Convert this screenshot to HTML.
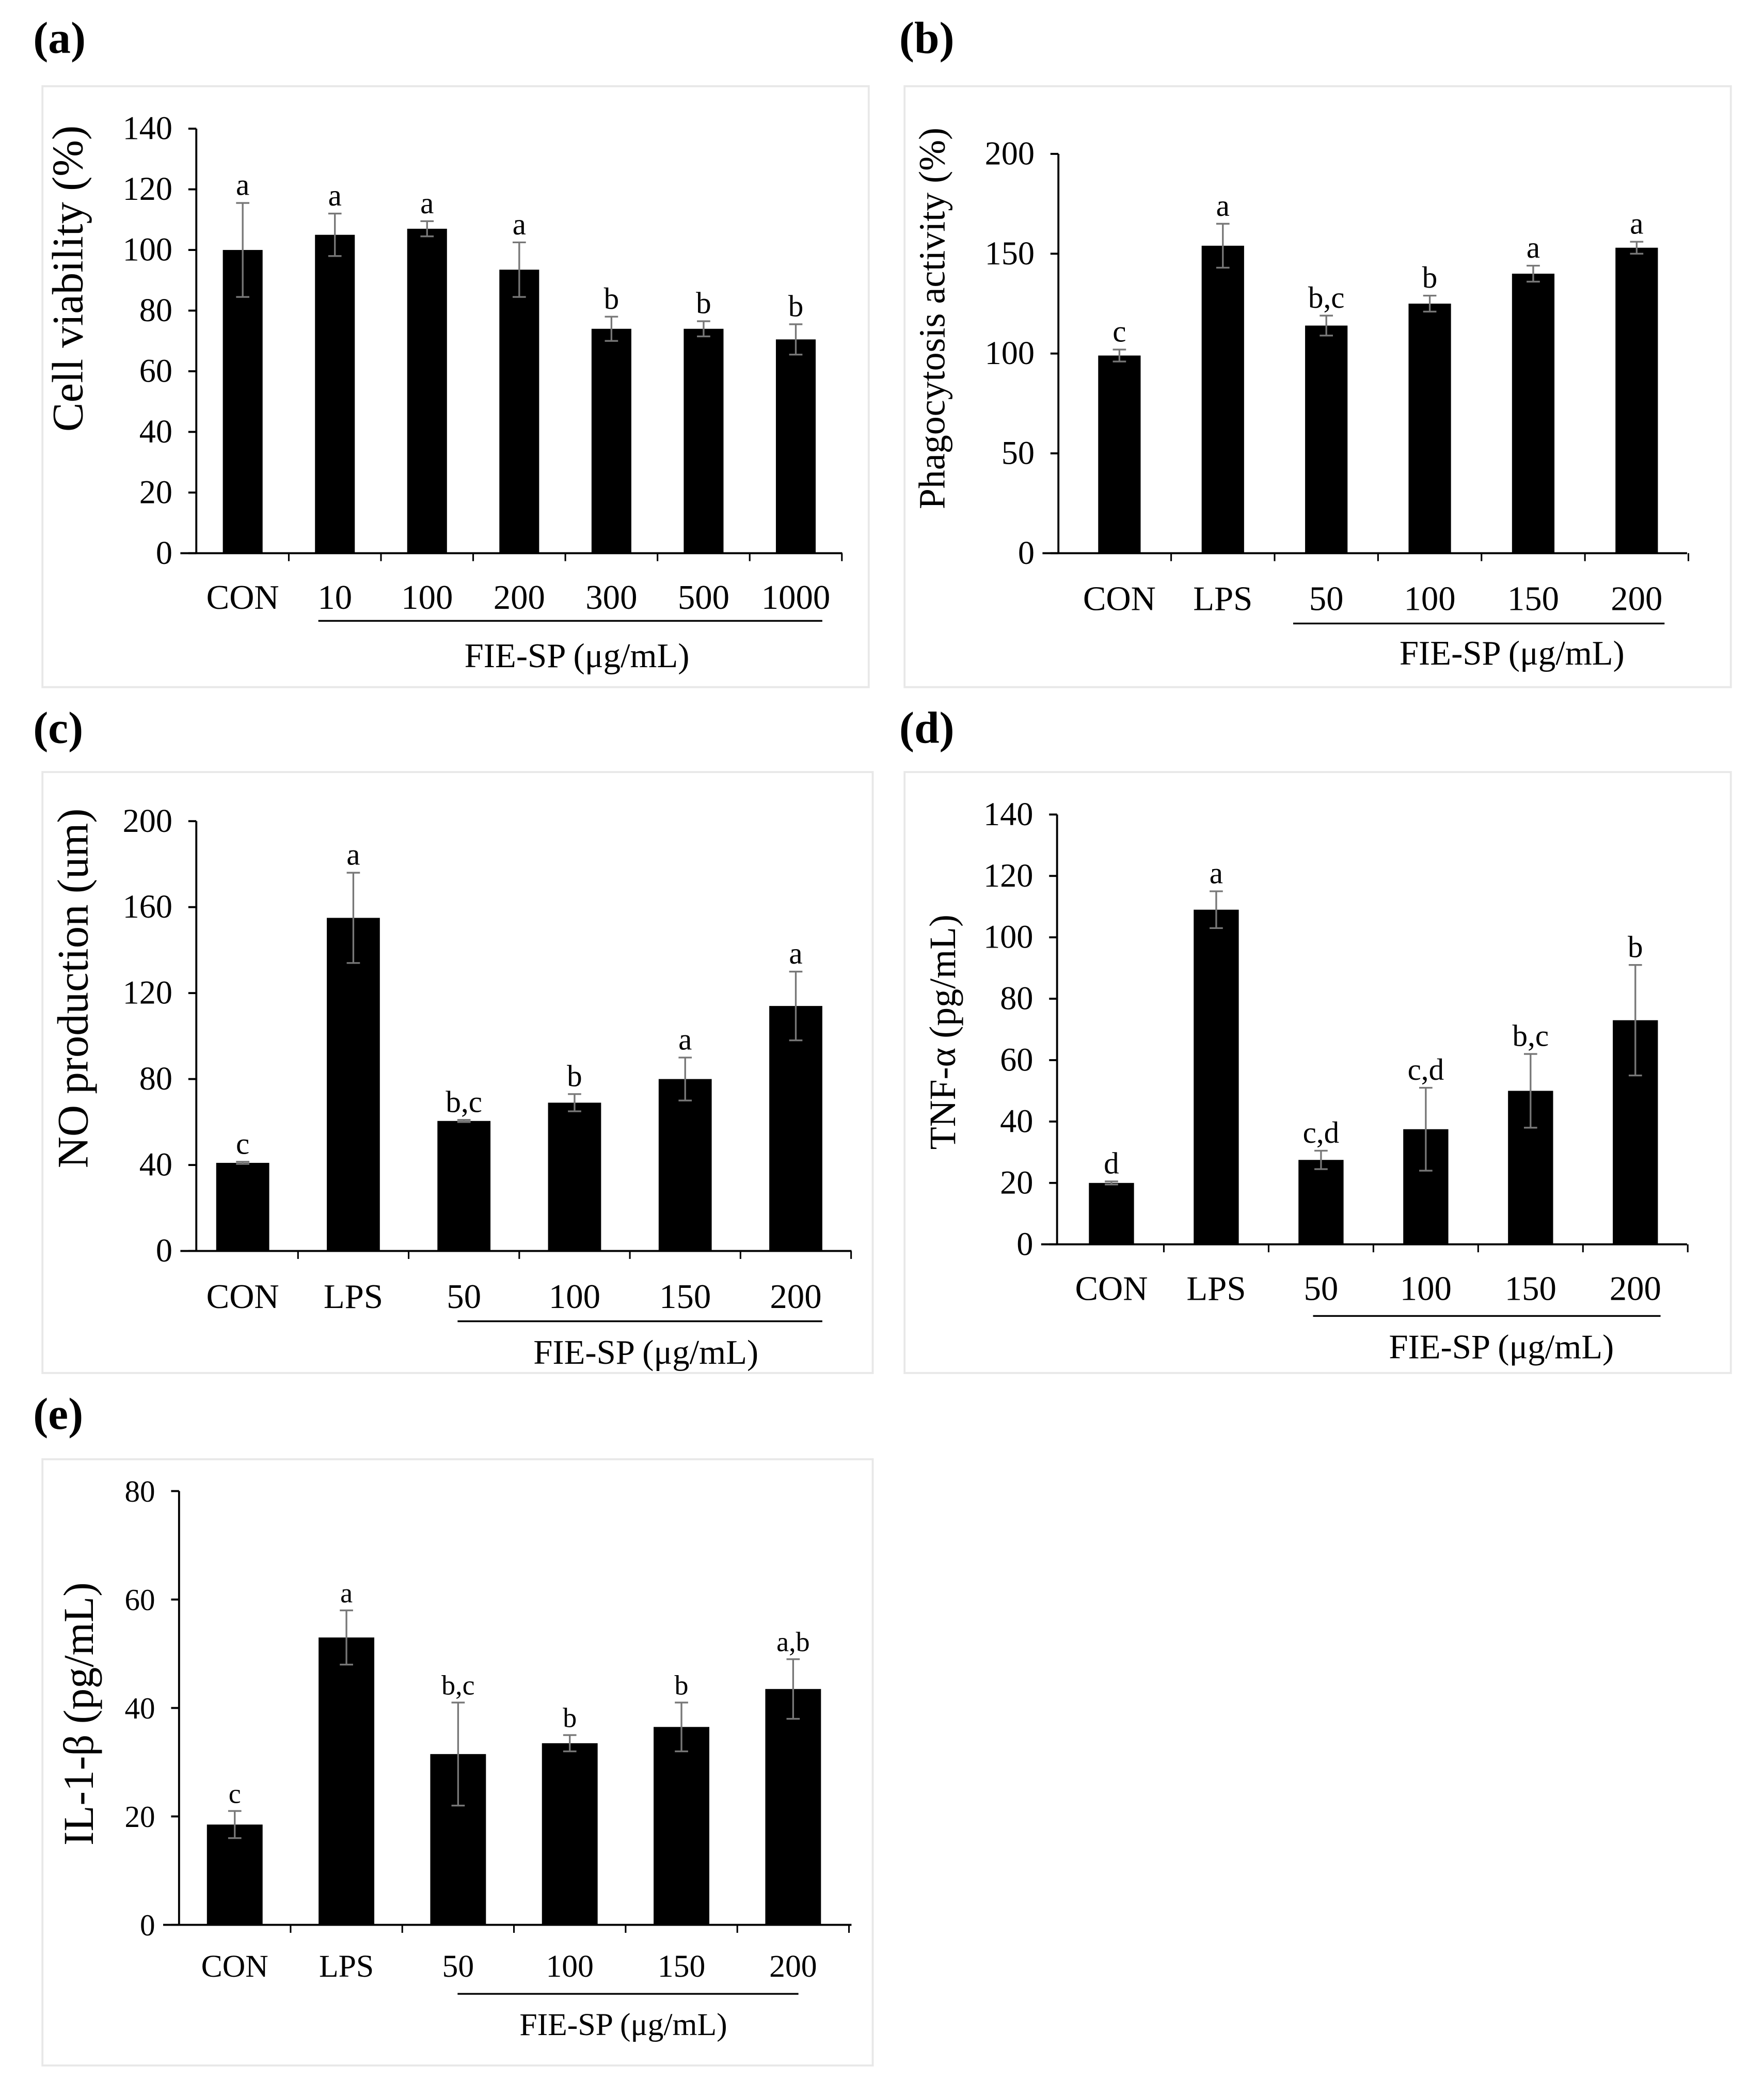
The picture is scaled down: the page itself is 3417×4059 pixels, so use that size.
<!DOCTYPE html>
<html><head><meta charset="utf-8"><style>
html,body{margin:0;padding:0;background:#fff;}
svg{display:block;}
text{font-family:"Liberation Serif","Times New Roman",serif;fill:#000;}
</style></head><body>
<svg id="fig" width="3417" height="4059" viewBox="0 0 1330 1580" preserveAspectRatio="none" xmlns="http://www.w3.org/2000/svg"></svg>
<script>
// Panel (a)
const aCats = ["CON","10","100","200","300","500","1000"];
const aVals = [100,105,107,93.5,74,74,70.5];
const aErrs = [15.5,7,2.5,9,4,2.5,5];
const aLets = ["a","a","a","a","b","b","b"];
const aTicks = [0,20,40,60,80,100,120,140];
// Panel (b)
const bCats = ["CON","LPS","50","100","150","200"];
const bVals = [99,154,114,125,140,153];
const bErrs = [3,11,5,4,4,3];
const bLets = ["c","a","b,c","b","a","a"];
const bTicks = [0,50,100,150,200];
// Panel (c)
const cCats = ["CON","LPS","50","100","150","200"];
const cVals = [41,155,60.5,69,80,114];
const cErrs = [0.5,21,0.5,4,10,16];
const cLets = ["c","a","b,c","b","a","a"];
const cTicks = [0,40,80,120,160,200];
// Panel (d)
const dCats = ["CON","LPS","50","100","150","200"];
const dVals = [20,109,27.5,37.5,50,73];
const dErrs = [0.5,6,3,13.5,12,18];
const dLets = ["d","a","c,d","c,d","b,c","b"];
const dTicks = [0,20,40,60,80,100,120,140];
// Panel (e)
const eCats = ["CON","LPS","50","100","150","200"];
const eVals = [18.5,53,31.5,33.5,36.5,43.5];
const eErrs = [2.5,5,9.5,1.5,4.5,5.5];
const eLets = ["c","a","b,c","b","b","a,b"];
const eTicks = [0,20,40,60,80];

const NS="http://www.w3.org/2000/svg";
const svg=document.getElementById('fig');
function mk(tag,attrs,parent,txt){const e=document.createElementNS(NS,tag);for(const k in attrs)e.setAttribute(k,attrs[k]);if(txt!==undefined)e.textContent=txt;(parent||svg).appendChild(e);return e;}

const panels=[
 {id:'a',cats:aCats,vals:aVals,errs:aErrs,lets:aLets,ticks:aTicks,ylab:'Cell viability (%)',yfs:33,
  box:[32,65,655,518],lab:[25,40],ax:148,yTop:97,y0:417,x0c:183,step:69.5,bw:30,xEnd:635,fs:25,labY:459,ul:[240,620,468],fie:[435,503],ylx:62,yly:210},
 {id:'b',cats:bCats,vals:bVals,errs:bErrs,lets:bLets,ticks:bTicks,ylab:'Phagocytosis activity (%)',yfs:28,
  box:[682,65,1305,518],lab:[678,40],ax:798,yTop:116,y0:417,x0c:844,step:78,bw:32,xEnd:1272,fs:25,labY:460,ul:[975,1255,470],fie:[1140,501],ylx:712,yly:240},
 {id:'c',cats:cCats,vals:cVals,errs:cErrs,lets:cLets,ticks:cTicks,ylab:'NO production (um)',yfs:33,
  box:[32,582,658,1035],lab:[25,560],ax:148,yTop:619,y0:943,x0c:183,step:83.4,bw:40,xEnd:642,fs:25,labY:986,ul:[345,620,996],fie:[487,1028],ylx:66,yly:745},
 {id:'d',cats:dCats,vals:dVals,errs:dErrs,lets:dLets,ticks:dTicks,ylab:'TNF-\u03B1 (pg/mL)',yfs:28,
  box:[682,582,1305,1035],lab:[678,560],ax:797,yTop:614,y0:938,x0c:838,step:79,bw:34,xEnd:1272,fs:25,labY:980,ul:[990,1252,992],fie:[1132,1024],ylx:720,yly:778},
 {id:'e',cats:eCats,vals:eVals,errs:eErrs,lets:eLets,ticks:eTicks,ylab:'IL-1-\u03B2 (pg/mL)',yfs:32,
  box:[32,1100,658,1557],lab:[25,1077],ax:135,yTop:1124,y0:1451,x0c:177,step:84.2,bw:42,xEnd:642,fs:23,labY:1490,ul:[345,602,1503],fie:[470,1534],ylx:70,yly:1292}
];

panels.forEach(p=>{
 const g=mk('g',{});
 
 
 const bx=mk('rect',{x:p.box[0],y:p.box[1],width:p.box[2]-p.box[0],height:p.box[3]-p.box[1],fill:'none',stroke:'#e8e8e8','stroke-width':1.5},g);
 
 
 const pl=mk('text',{x:p.lab[0],y:p.lab[1],'font-size':34,'font-weight':'bold'},g,'('+p.id+')');
 
 
 const tmax=p.ticks[p.ticks.length-1];
 const Y=v=>p.y0-(v/tmax)*(p.y0-p.yTop);
 const X=i=>p.x0c+i*p.step;
 const ya=mk('line',{x1:p.ax,y1:p.yTop,x2:p.ax,y2:p.y0,stroke:'#000','stroke-width':1.5},g);
 
 
 p.ticks.forEach(t=>{
  mk('line',{x1:p.ax-6,y1:Y(t),x2:p.ax,y2:Y(t),stroke:'#000','stroke-width':1.5},g);
  const tl=mk('text',{x:p.ax-18,y:Y(t)+8,'font-size':p.fs,'text-anchor':'end'},g,String(t));
  
  
 });
 const xa=mk('line',{x1:p.ax-12,y1:p.y0,x2:p.xEnd,y2:p.y0,stroke:'#000','stroke-width':1.5},g);
 
 
 for(let i=0;i<p.cats.length;i++){
  const bxp=X(i)+p.step/2;
  mk('line',{x1:bxp,y1:p.y0,x2:bxp,y2:p.y0+6,stroke:'#000','stroke-width':1.2},g);
 }
 p.cats.forEach((c,i)=>{
  const v=p.vals[i],e=p.errs[i];
  const r=mk('rect',{x:X(i)-p.bw/2,y:Y(v),width:p.bw,height:p.y0-Y(v),fill:'#000'},g);
  
  
  const eg=mk('g',{stroke:'#777','stroke-width':1.3},g);
  
  
  mk('line',{x1:X(i),y1:Y(v+e),x2:X(i),y2:Y(v-e)},eg);
  mk('line',{x1:X(i)-5,y1:Y(v+e),x2:X(i)+5,y2:Y(v+e)},eg);
  mk('line',{x1:X(i)-5,y1:Y(v-e),x2:X(i)+5,y2:Y(v-e)},eg);
  const lt=mk('text',{x:X(i),y:Y(v+e)-6,'font-size':p.fs-2,'text-anchor':'middle'},g,p.lets[i]);
  
  
  const cl=mk('text',{x:X(i),y:p.labY,'font-size':p.fs+1,'text-anchor':'middle'},g,c);
  
  
 });
 const ul=mk('line',{x1:p.ul[0],y1:p.ul[2],x2:p.ul[1],y2:p.ul[2],stroke:'#000','stroke-width':1.3},g);
 
 
 const ft=mk('text',{x:p.fie[0],y:p.fie[1],'font-size':p.fs+1,'text-anchor':'middle'},g,'FIE-SP (\u03BCg/mL)');
 
 
 const yl=mk('text',{x:p.ylx,y:p.yly,'font-size':p.yfs,'text-anchor':'middle',transform:'rotate(-90 '+p.ylx+' '+p.yly+')'},g,p.ylab);
 
 
});
</script>
</body></html>
